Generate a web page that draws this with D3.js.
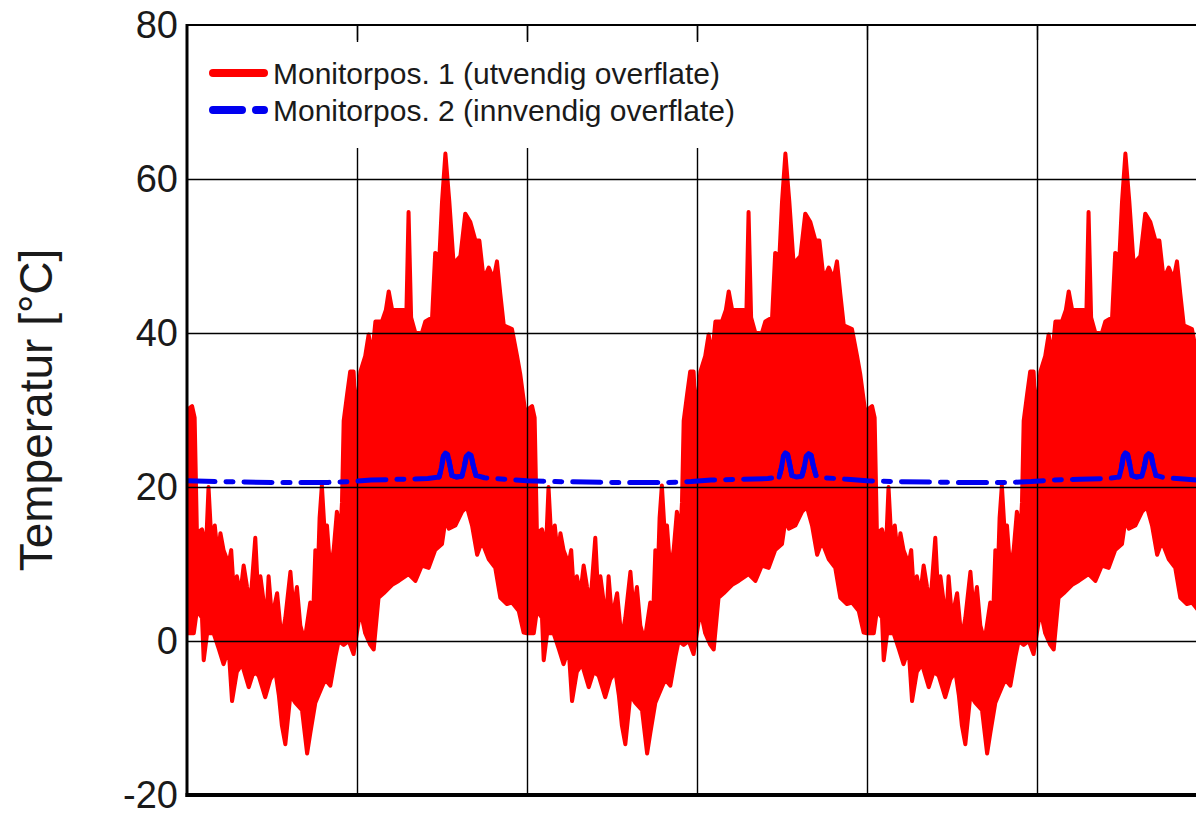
<!DOCTYPE html>
<html>
<head>
<meta charset="utf-8" />
<title>Temperatur monitorposisjoner</title>
<script type="text/javascript" src="https://d3js.org/d3.v7.min.js"></script>
<style type="text/css">
    body { margin: 0; background: #fff; }
    text { font-family: "Liberation Sans", Arial, sans-serif; fill: #1a1a1a; }
</style>
</head>
<body>
<svg id="chart" width="1196" height="815"></svg>
<script>
    // one climate year (months from start), repeated for every simulated year
    // outer surface: daily highs and lows
    var hiMonth = [0,0.18,0.27,0.35,0.53,0.67,0.76,0.86,0.98,1.09,1.18,1.29,1.47,1.56,1.66,1.76,1.88,2.0,2.12,2.24,
        2.41,2.51,2.59,2.71,2.82,2.88,3.0,3.18,3.29,3.38,3.47,3.65,3.76,3.88,4.0,4.15,4.27,4.35,4.45,4.53,
        4.62,4.68,4.76,4.86,4.94,5.06,5.18,5.29,5.41,5.47,5.53,5.65,5.76,5.88,5.96,6.12,6.29,6.41,6.53,6.65,
        6.88,7.02,7.12,7.24,7.47,7.65,7.74,7.82,7.91,8.06,8.2,8.25,8.29,8.41,8.65,8.76,8.91,9.0,9.12,9.26,
        9.41,9.65,9.82,10.0,10.18,10.32,10.47,10.65,10.82,10.94,11.06,11.18,11.47,11.65,11.76,11.94];
    var hiTemp = [30,30.5,29,14,14.5,12,20,13,15,11,14,11.8,10,11.8,6,8.4,6,9.8,7,5,
        13.4,6,8.4,5,4,8.4,3,6.2,2,1.1,3,9,4,7,2,0,3,5,3,11.8,
        9,16,20.2,14,15,9,12,16.8,14,18,28.6,32,35,35,29,35,37,39.8,37,41.5,
        41.5,43,45.4,43,43,43,42,55.7,42,40,40,31,40,41.5,42,50.4,50,57,63.3,57,
        49,50,55.5,54.4,52,52,47,48.5,47,49.3,45,41,40.5,37,34.7,29.7];
    var loMonth = [0,0.24,0.35,0.53,0.59,0.71,0.94,1.12,1.29,1.47,1.59,1.76,1.94,2.18,2.35,2.53,2.76,2.94,3.12,3.24,
        3.35,3.47,3.65,3.82,4.06,4.24,4.35,4.53,4.76,4.88,5.06,5.24,5.35,5.53,5.71,5.88,6.12,6.29,6.47,6.59,
        6.76,6.94,7.24,7.47,7.82,8.06,8.29,8.53,8.76,9.0,9.12,9.24,9.47,9.71,9.88,10.06,10.24,10.41,10.65,10.88,
        11.06,11.29,11.47,11.71,11.88];
    var loTemp = [1,1,4,3,-2.5,1,1,-1,-3,-1,-7.8,-4,-3,-6,-4,-4.5,-7.3,-5,-4,-7,
        -11,-13.4,-7,-8,-9,-14.6,-12,-8,-6,-5,-5.8,-2,0,-0.5,0,-1.7,4,1,-0.5,-1.1,
        5.6,6.2,7.3,7.8,8.7,7.8,9.8,9.5,11.8,12.6,15.7,14.6,15,16.8,17.4,15,11.2,12.9,10.6,9.5,
        5.6,4.8,5,3.9,1.1];
    // inner surface
    var inMonth = [0,1,3,5,5.8,6.5,7.5,8.5,8.9,8.98,9.05,9.12,9.2,9.27,9.35,9.5,9.7,9.78,9.86,9.94,10.03,10.1,10.2,10.5,11.3];
    var inTemp = [20.8,20.7,20.6,20.6,20.7,20.9,21.0,21.1,21.3,22.5,24.0,24.4,24.2,23.0,21.5,21.3,21.4,22.5,24.0,24.3,24.1,22.8,21.5,21.2,21.0];

    var years = [0, 1, 2, 3];
    var yTicks = [-20, 0, 20, 40, 60, 80];
    var xTicks = [0, 6, 12, 18, 24, 30, 36];
    var legendLabels = ["Monitorpos. 1 (utvendig overflate)", "Monitorpos. 2 (innvendig overflate)"];
    var yTitle = "Temperatur [\u00B0C]";

    // plot box (window.top is taken, hence the prefix)
    var pLeft = 187, pTop = 25, pRight = 1207, pBottom = 795;

    var svg = d3.select("#chart");

    var x = d3.scaleLinear().domain([0, 36]).range([pLeft, pRight]);
    var y = d3.scaleLinear().domain([-20, 80]).range([pBottom, pTop]);

    // same year for every simulated year
    function allYears(months, temps) {
        var out = [];
        years.forEach(function(k) {
            months.forEach(function(m, i) { out.push([m + 12 * k, temps[i]]); });
        });
        return out.filter(function(d) { return d[0] <= 36.5; });
    }

    svg.append("defs").append("clipPath").attr("id", "plotclip")
        .append("rect")
        .attr("x", pLeft).attr("y", pTop)
        .attr("width", pRight - pLeft).attr("height", pBottom - pTop);

    var line = d3.line().x(function(d) { return x(d[0]); }).y(function(d) { return y(d[1]); });

    // red band: highs forward, lows back
    var outer = allYears(hiMonth, hiTemp).concat(allYears(loMonth, loTemp).reverse());
    svg.append("path")
        .attr("clip-path", "url(#plotclip)")
        .attr("d", line(outer) + "Z")
        .attr("fill", "#ff0000")
        .attr("stroke", "#ff0000")
        .attr("stroke-width", 4)
        .attr("stroke-linejoin", "round");

    // grid on top of the red
    svg.append("g")
        .attr("transform", "translate(0," + pBottom + ")")
        .call(d3.axisBottom(x).tickValues(xTicks.slice(1, -1)).tickSize(-(pBottom - pTop)).tickFormat(""))
        .call(function(g) { g.select(".domain").remove(); })
        .selectAll("line").attr("stroke", "#000").attr("stroke-width", 1.4);

    svg.append("g")
        .attr("transform", "translate(" + pLeft + ",0)")
        .call(d3.axisLeft(y).tickValues(yTicks.slice(1, -1)).tickSize(-(pRight - pLeft)).tickFormat(""))
        .call(function(g) { g.select(".domain").remove(); })
        .selectAll("line").attr("stroke", "#000").attr("stroke-width", 1.4);

    // inner surface, dash-dot
    var inner = allYears(inMonth, inTemp);
    svg.append("path")
        .attr("clip-path", "url(#plotclip)")
        .attr("d", line(inner))
        .attr("fill", "none")
        .attr("stroke", "#0000f0")
        .attr("stroke-width", 5)
        .attr("stroke-linecap", "round")
        .attr("stroke-linejoin", "round")
        .attr("stroke-dasharray", "28,11,7,11");

    // the dense warm-season wiggles print as an unbroken line in the original
    years.forEach(function(k) {
        var part = inner.filter(function(d) { return d[0] >= 12 * k + 8.85 && d[0] <= 12 * k + 10.25; });
        if (part.length < 2) return;
        svg.append("path")
            .attr("clip-path", "url(#plotclip)")
            .attr("d", line(part))
            .attr("fill", "none")
            .attr("stroke", "#0000f0")
            .attr("stroke-width", 5)
            .attr("stroke-linecap", "round")
            .attr("stroke-linejoin", "round");
    });

    // legend (white box hides the grid)
    var lg = svg.append("g");
    lg.append("rect")
        .attr("x", 191).attr("y", 42).attr("width", 550).attr("height", 106)
        .attr("fill", "#fff");
    var legItems = lg.selectAll("g.item")
        .data(legendLabels)
        .enter()
        .append("g")
        .attr("class", "item")
        .attr("transform", function(d, i) { return "translate(0," + (73 + i * 37) + ")"; });
    legItems.append("line")
        .attr("x1", 213).attr("x2", 264)
        .attr("stroke", function(d, i) { return i == 0 ? "#ff0000" : "#0000f0"; })
        .attr("stroke-width", 8)
        .attr("stroke-linecap", "round")
        .attr("stroke-dasharray", function(d, i) { return i == 0 ? null : "29,14,9,14"; });
    legItems.append("text")
        .attr("x", 273)
        .attr("dy", "0.36em")
        .style("font-size", "30px")
        .text(function(d) { return d; });

    // inward ticks along the top
    svg.append("g")
        .attr("transform", "translate(0," + pTop + ")")
        .call(d3.axisTop(x).tickValues(xTicks.slice(1, -1)).tickSize(-15).tickFormat(""))
        .call(function(g) { g.select(".domain").remove(); })
        .selectAll("line").attr("stroke", "#000").attr("stroke-width", 1.4);

    // frame
    svg.append("line").attr("x1", pLeft).attr("x2", 1196).attr("y1", pTop).attr("y2", pTop)
        .attr("stroke", "#000").attr("stroke-width", 2);
    svg.append("line").attr("x1", pLeft).attr("x2", pLeft).attr("y1", pTop - 1).attr("y2", pBottom + 2)
        .attr("stroke", "#000").attr("stroke-width", 3);
    svg.append("line").attr("x1", pLeft - 1.5).attr("x2", 1196).attr("y1", pBottom).attr("y2", pBottom)
        .attr("stroke", "#000").attr("stroke-width", 4);

    // y tick labels, plain hyphen for the minus like the original
    var yAxis = svg.append("g")
        .attr("transform", "translate(" + pLeft + ",0)")
        .call(d3.axisLeft(y).tickValues(yTicks).tickSize(0).tickPadding(9)
            .tickFormat(function(d) { return String(d); }));
    yAxis.select(".domain").remove();
    yAxis.selectAll("text")
        .style("font-size", "38px")
        .style("font-family", "'Liberation Sans', Arial, sans-serif")
        .attr("fill", "#1a1a1a");

    svg.append("text")
        .attr("transform", "translate(52,410) rotate(-90)")
        .attr("text-anchor", "middle")
        .style("font-size", "46px")
        .text(yTitle);
</script>
</body>
</html>
